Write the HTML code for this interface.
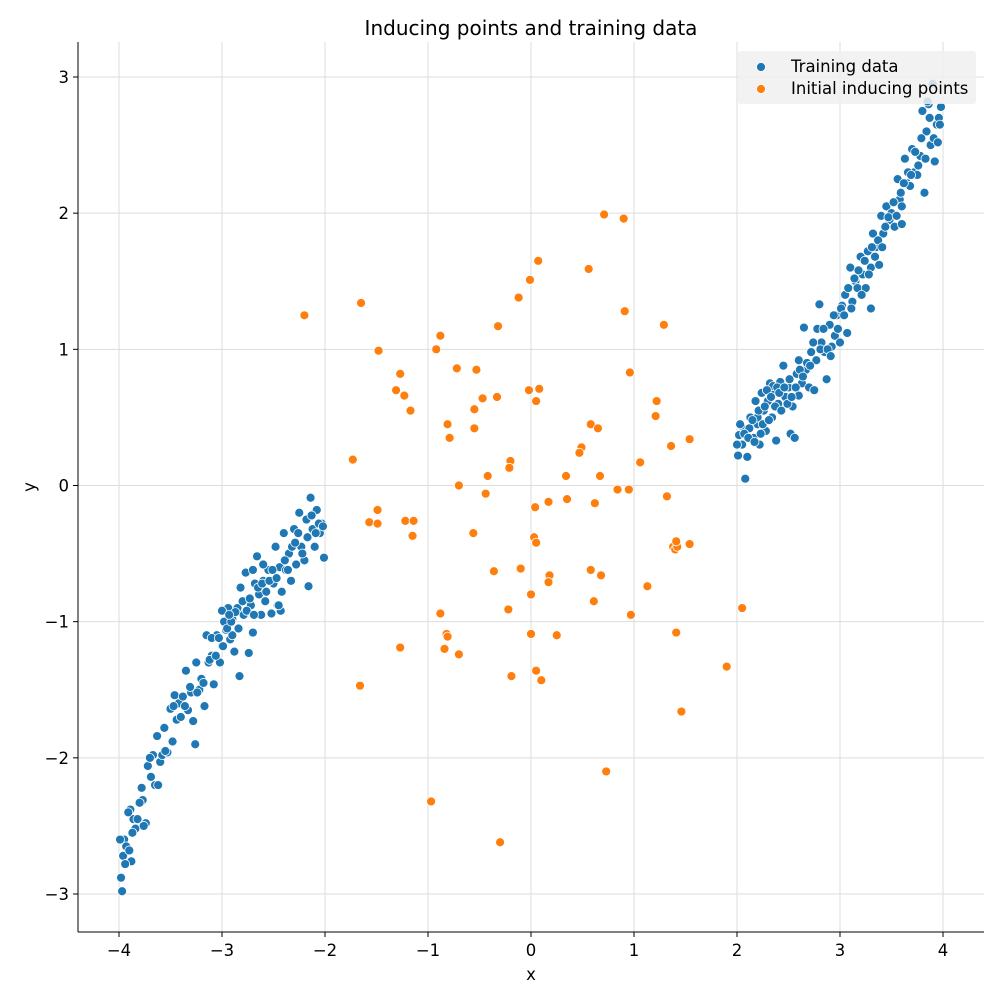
<!DOCTYPE html>
<html><head><meta charset="utf-8"><style>
body{margin:0;background:#fff;}
svg text{font-family:"DejaVu Sans","Liberation Sans",sans-serif;fill:#000;}
</style></head><body>
<svg id="chart" width="1003" height="1003" xmlns="http://www.w3.org/2000/svg">
<rect width="1003" height="1003" fill="#fff"/>
<g id="grid"></g><g id="pts"></g><g id="axes"></g>
</svg>
<script>
const trainX=[-3.98,-3.97,-3.96,-3.95,-3.93,-3.9,-3.89,-3.88,-3.86,-3.84,-3.82,-3.78,-3.77,-3.74,-3.72,-3.69,-3.67,-3.65,-3.63,-3.6,-3.58,-3.56,-3.53,-3.5,-3.48,-3.46,-3.44,-3.42,-3.38,-3.35,-3.33,-3.3,-3.28,-3.26,-3.25,-3.22,-3.2,-3.17,-3.15,-3.13,-3.1,-3.08,-3.05,-3.02,-3.0,-2.98,-2.96,-2.94,-2.92,-2.9,-2.88,-2.85,-2.83,-2.82,-2.79,-2.77,-2.75,-2.74,-2.72,-2.7,-2.68,-2.66,-2.64,-2.62,-2.6,-2.57,-2.55,-2.52,-2.5,-2.48,-2.46,-2.44,-2.42,-2.4,-2.38,-2.35,-2.33,-2.3,-2.28,-2.25,-2.23,-2.2,-2.18,-2.16,-2.14,-2.12,-2.1,-2.08,-2.05,-2.03,-2.01,-2.9,-3.1,-2.6,
-3.99,-3.94,-3.91,-3.87,-3.8,-3.76,-3.7,-3.62,-3.55,-3.47,-3.4,-3.36,-3.31,-3.24,-3.18,-3.12,-3.06,-3.03,-2.99,-2.95,-2.91,-2.87,-2.84,-2.8,-2.76,-2.73,-2.69,-2.65,-2.61,-2.58,-2.54,-2.51,-2.47,-2.43,-2.39,-2.36,-2.32,-2.29,-2.26,-2.22,-2.17,-2.13,-2.09,-2.06,-2.02,-2.7,-2.45,-3.0,-2.93,
2.01,2.02,2.04,2.05,2.08,2.1,2.12,2.13,2.16,2.18,2.2,2.22,2.24,2.26,2.28,2.3,2.32,2.34,2.36,2.38,2.4,2.42,2.45,2.47,2.5,2.52,2.54,2.56,2.58,2.6,2.63,2.65,2.67,2.7,2.72,2.75,2.77,2.8,2.82,2.85,2.87,2.9,2.92,2.95,2.97,3.0,3.02,3.05,3.07,3.1,3.12,3.15,3.17,3.2,3.22,3.25,3.27,3.3,3.32,3.35,3.38,3.4,3.42,3.45,3.48,3.5,3.53,3.56,3.58,3.6,3.63,3.65,3.68,3.7,3.72,3.75,3.78,3.8,3.82,3.84,3.86,3.88,3.9,3.92,3.94,3.96,3.98,2.35,2.6,3.3,3.6,2.2,
2.0,2.03,2.07,2.11,2.15,2.17,2.21,2.23,2.25,2.27,2.29,2.31,2.33,2.37,2.39,2.41,2.43,2.46,2.49,2.51,2.53,2.57,2.61,2.64,2.68,2.71,2.74,2.78,2.81,2.84,2.88,2.91,2.94,2.98,3.01,3.04,3.08,3.11,3.14,3.18,3.21,3.24,3.28,3.31,3.34,3.37,3.41,3.44,3.47,3.52,3.55,3.59,3.62,3.66,3.69,3.73,3.76,3.79,3.83,3.87,3.91,3.95,3.97,3.85];
const trainY=[-2.88,-2.98,-2.72,-2.6,-2.65,-2.68,-2.38,-2.76,-2.45,-2.52,-2.45,-2.22,-2.31,-2.48,-2.06,-2.14,-1.98,-2.2,-1.84,-2.03,-1.98,-1.78,-1.96,-1.64,-1.88,-1.54,-1.72,-1.6,-1.55,-1.36,-1.65,-1.52,-1.73,-1.9,-1.3,-1.5,-1.42,-1.62,-1.1,-1.3,-1.25,-1.46,-1.1,-1.3,-1.18,-1.0,-1.06,-0.9,-1.13,-0.98,-1.22,-0.9,-1.4,-0.75,-0.95,-0.64,-0.85,-1.23,-0.88,-1.08,-0.72,-0.52,-0.8,-0.95,-0.7,-0.78,-0.62,-0.94,-0.72,-0.45,-0.88,-0.6,-0.78,-0.35,-0.62,-0.5,-0.7,-0.32,-0.58,-0.2,-0.45,-0.55,-0.25,-0.74,-0.09,-0.32,-0.45,-0.18,-0.35,-0.28,-0.53,-1.1,-1.12,-0.58,
-2.6,-2.78,-2.4,-2.55,-2.33,-2.5,-2.0,-2.2,-1.95,-1.62,-1.7,-1.62,-1.48,-1.52,-1.45,-1.28,-1.25,-1.12,-1.18,-1.05,-1.0,-0.93,-1.05,-0.85,-0.92,-0.83,-0.95,-0.75,-0.72,-0.85,-0.7,-0.62,-0.68,-0.92,-0.55,-0.62,-0.45,-0.42,-0.35,-0.5,-0.38,-0.22,-0.35,-0.28,-0.3,-0.62,-0.88,-0.92,-0.95,
0.22,0.37,0.44,0.3,0.05,0.21,0.42,0.5,0.35,0.62,0.45,0.3,0.68,0.55,0.4,0.62,0.75,0.5,0.68,0.33,0.6,0.76,0.88,0.65,0.72,0.38,0.58,0.35,0.82,0.92,0.75,1.16,0.85,0.72,0.98,0.7,0.92,1.33,1.05,0.98,0.78,1.18,1.02,1.1,1.25,1.05,1.32,1.4,1.12,1.6,1.35,1.5,1.45,1.68,1.55,1.45,1.72,1.6,1.85,1.75,1.62,1.98,1.85,2.05,1.95,2.0,1.9,2.25,2.1,2.05,2.4,2.22,2.2,2.47,2.3,2.28,2.42,2.75,2.15,2.6,2.8,2.5,2.95,2.38,2.65,2.7,2.78,0.73,0.66,1.3,1.92,0.5,
0.3,0.45,0.38,0.35,0.48,0.32,0.55,0.38,0.45,0.58,0.7,0.48,0.65,0.58,0.72,0.68,0.55,0.72,0.6,0.78,0.65,0.72,0.85,0.8,0.9,0.88,1.05,1.15,1.0,1.15,1.0,0.95,1.25,1.15,1.3,1.25,1.45,1.3,1.52,1.58,1.4,1.65,1.55,1.75,1.68,1.8,1.75,1.9,1.97,2.08,1.98,2.15,2.22,2.3,2.28,2.45,2.35,2.55,2.4,2.7,2.55,2.52,2.65,2.82];
const indX=[-2.2,-1.65,-1.48,-1.73,-1.57,-1.49,-1.49,-1.66,-1.27,-1.31,-1.23,-1.17,-1.22,-1.14,-1.15,-1.27,-0.92,-0.88,-0.81,-0.79,-0.7,-0.88,-0.82,-0.81,-0.84,-0.97,-0.55,-0.53,-0.47,-0.33,-0.55,-0.42,-0.44,-0.56,-0.36,-0.72,-0.7,-0.2,-0.21,-0.1,-0.22,-0.19,-0.3,-0.32,-0.12,-0.01,0.07,-0.02,0.05,0.08,0.04,0.03,0.05,0.0,0.0,0.05,0.1,0.17,0.18,0.17,0.25,0.34,0.35,0.49,0.47,0.56,0.58,0.65,0.67,0.58,0.61,0.68,0.71,0.73,0.84,0.95,0.96,0.91,0.9,1.06,1.13,1.22,1.21,1.29,1.32,1.36,1.38,1.4,1.42,1.41,1.54,1.54,1.41,1.46,1.9,2.05,0.62,0.97];
const indY=[1.25,1.34,0.99,0.19,-0.27,-0.18,-0.28,-1.47,0.82,0.7,0.66,0.55,-0.26,-0.26,-0.37,-1.19,1.0,1.1,0.45,0.35,0.0,-0.94,-1.09,-1.11,-1.2,-2.32,0.56,0.85,0.64,0.65,0.42,0.07,-0.06,-0.35,-0.63,0.86,-1.24,0.18,0.13,-0.61,-0.91,-1.4,-2.62,1.17,1.38,1.51,1.65,0.7,0.62,0.71,-0.16,-0.38,-0.42,-0.8,-1.09,-1.36,-1.43,-0.12,-0.66,-0.71,-1.1,0.07,-0.1,0.28,0.24,1.59,0.45,0.42,0.07,-0.62,-0.85,-0.66,1.99,-2.1,-0.03,-0.03,0.83,1.28,1.96,0.17,-0.74,0.62,0.51,1.18,-0.08,0.29,-0.45,-0.47,-0.45,-0.41,0.34,-0.43,-1.08,-1.66,-1.33,-0.9,-0.13,-0.95];
const xTicks=[-4,-3,-2,-1,0,1,2,3,4];
const yTicks=[-3,-2,-1,0,1,2,3];
const L=78,R=984,T=42,B=932;
const sx=v=>531+v*103, sy=v=>485.5-v*136.17;
const NS='http://www.w3.org/2000/svg';
function mk(tag,attrs,parent,txt){const e=document.createElementNS(NS,tag);for(const k in attrs)e.setAttribute(k,attrs[k]);if(txt!==undefined)e.textContent=txt;parent.appendChild(e);return e;}
const grid=document.getElementById('grid'),pts=document.getElementById('pts'),axes=document.getElementById('axes');
xTicks.forEach(t=>{
  const g=mk('line',{x1:sx(t),x2:sx(t),y1:T,y2:B,stroke:'#dddddd','stroke-width':1},grid);
  
  
  const tk=mk('line',{x1:sx(t),x2:sx(t),y1:B,y2:B+5,stroke:'#000','stroke-width':1},axes);
  
  
  const lb=mk('text',{x:sx(t),y:B+24,'text-anchor':'middle','font-size':16.5},axes,(t<0?'\u2212':'')+Math.abs(t));
  
  
});
yTicks.forEach(t=>{
  const g=mk('line',{x1:L,x2:R,y1:sy(t),y2:sy(t),stroke:'#dddddd','stroke-width':1},grid);
  
  
  const tk=mk('line',{x1:L-5,x2:L,y1:sy(t),y2:sy(t),stroke:'#000','stroke-width':1},axes);
  
  
  const lb=mk('text',{x:L-9,y:sy(t)+6,'text-anchor':'end','font-size':16.5},axes,(t<0?'\u2212':'')+Math.abs(t));
  
  
});
trainX.forEach((x,i)=>{
  const c=mk('circle',{cx:sx(x),cy:sy(trainY[i]),r:4.5,fill:'#1f77b4',stroke:'#fff','stroke-width':0.8},pts);
  
  
});
indX.forEach((x,i)=>{
  const c=mk('circle',{cx:sx(x),cy:sy(indY[i]),r:4.5,fill:'#ff7f0e',stroke:'#fff','stroke-width':0.8},pts);
  
  
});
let e;
e=mk('line',{x1:L,x2:L,y1:T,y2:B,stroke:'#000','stroke-width':1},axes);


e=mk('line',{x1:L,x2:R,y1:B,y2:B,stroke:'#000','stroke-width':1},axes);


e=mk('text',{x:531,y:35,'text-anchor':'middle','font-size':20},axes,'Inducing points and training data');


e=mk('text',{x:531,y:980,'text-anchor':'middle','font-size':16.5},axes,'x');


e=mk('text',{x:35,y:487,'text-anchor':'middle','font-size':16.5,transform:'rotate(-90 35 487)'},axes,'y');


const lg=mk('g',{},axes);


mk('rect',{x:738,y:51,width:238,height:53,rx:3,fill:'#f0f0f0','fill-opacity':0.85},lg);
e=mk('circle',{cx:761,cy:67,r:4.5,fill:'#1f77b4',stroke:'#fff','stroke-width':0.8},lg);


e=mk('text',{x:791,y:72,'font-size':16.5},lg,'Training data');


e=mk('circle',{cx:761,cy:89,r:4.5,fill:'#ff7f0e',stroke:'#fff','stroke-width':0.8},lg);


e=mk('text',{x:791,y:94,'font-size':16.5},lg,'Initial inducing points');


</script>
</body></html>
